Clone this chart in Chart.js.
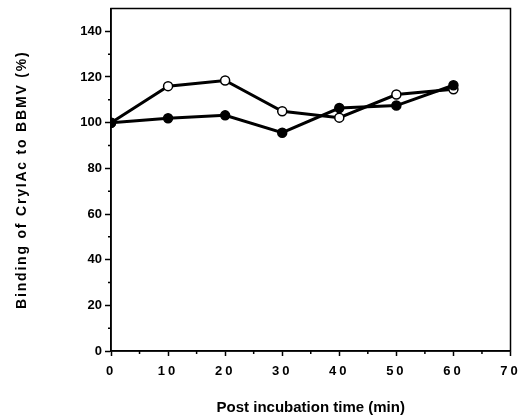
<!DOCTYPE html>
<html>
<head>
<meta charset="utf-8">
<script src="https://cdn.jsdelivr.net/npm/chart.js@4.4.1/dist/chart.umd.min.js"></script>
<style>
  html, body { margin: 0; padding: 0; background: #fff; }
  #wrap { width: 520px; height: 417px; position: relative; }
</style>
</head>
<body>
<div id="wrap"><canvas id="chart01"></canvas></div>
<script>
// data
const timesMin = [0, 10, 20, 30, 40, 50, 60];
const filledSeries = [100, 101.9, 103.2, 95.6, 106.4, 107.5, 116.4];
const openSeries = [100, 116.0, 118.5, 105.0, 102.2, 112.3, 114.6];
const xMinorTicks = [5, 15, 25, 35, 45, 55, 65];
const yMinorTicks = [10, 30, 50, 70, 90, 110, 130];

const FONT = "'Liberation Sans', Arial, Helvetica, sans-serif";

// box around plot + short minor ticks
const framePlugin = {
  id: "frame",
  beforeDraw(chart) {
    const xs = chart.scales.x, ys = chart.scales.y;
    // letter spaced x tick labels and y title
    if (!xs._spaced) {
      const origLabels = xs.drawLabels;
      xs.drawLabels = function (area) {
        const c = this.ctx;
        c.save();
        c.letterSpacing = "3px";
        origLabels.call(this, area);
        c.restore();
      };
      xs._spaced = true;
    }
    if (!ys._spaced) {
      const origTitle = ys.drawTitle;
      ys.drawTitle = function (area) {
        const c = this.ctx;
        c.save();
        c.letterSpacing = "1.8px";
        origTitle.call(this, area);
        c.restore();
      };
      ys._spaced = true;
    }
  },
  afterDraw(chart) {
    const ctx = chart.ctx;
    const a = chart.chartArea;
    const xs = chart.scales.x, ys = chart.scales.y;
    ctx.save();
    ctx.strokeStyle = "#000";
    ctx.lineWidth = 1.5;
    ctx.strokeRect(a.left, a.top, a.right - a.left, a.bottom - a.top);
    ctx.beginPath();
    xMinorTicks.forEach((v) => {
      const px = xs.getPixelForValue(v);
      ctx.moveTo(px, a.bottom);
      ctx.lineTo(px, a.bottom + 3);
    });
    yMinorTicks.forEach((v) => {
      const py = ys.getPixelForValue(v);
      ctx.moveTo(a.left, py);
      ctx.lineTo(a.left - 3, py);
    });
    ctx.stroke();
    ctx.restore();
  },
};

const ctx01 = document.getElementById("chart01").getContext("2d");

const dataLine = {
  labels: timesMin,
  datasets: [
    {
      label: "filled",
      data: timesMin.map((t, i) => ({ x: t, y: filledSeries[i] })),
      borderColor: "#000",
      backgroundColor: "#000",
      borderWidth: 3,
      pointRadius: 4.5,
      pointBorderWidth: 1.5,
      pointBorderColor: "#000",
      pointBackgroundColor: "#000",
      tension: 0,
    },
    {
      label: "open",
      data: timesMin.map((t, i) => ({ x: t, y: openSeries[i] })),
      borderColor: "#000",
      backgroundColor: "#fff",
      borderWidth: 3,
      pointRadius: 4.5,
      pointBorderWidth: 1.5,
      pointBorderColor: "#000",
      pointBackgroundColor: "#fff",
      tension: 0,
    },
  ],
};

const configLine = {
  type: "line",
  data: dataLine,
  plugins: [framePlugin],
  options: {
    responsive: true,
    maintainAspectRatio: false,
    animation: false,
    layout: { autoPadding: false, padding: { top: 8.5, right: 9.5, left: 0, bottom: 0 } },
    plugins: {
      legend: { display: false },
      tooltip: { enabled: false },
    },
    scales: {
      x: {
        type: "linear",
        min: 0,
        max: 70,
        border: { display: true, color: "#000", width: 1.5 },
        grid: { drawOnChartArea: false, drawTicks: true, tickLength: 5, tickColor: "#000", tickWidth: 1.5 },
        ticks: {
          stepSize: 10,
          color: "#000",
          padding: 8,
          maxRotation: 0,
          font: { family: FONT, size: 13, weight: "bold" },
        },
        title: {
          display: true,
          text: "Post incubation time (min)",
          color: "#000",
          padding: { top: 20, bottom: 0 },
          font: { family: FONT, size: 15, weight: "bold" },
        },
        afterFit(scale) {
          scale.height = 66;
          scale.paddingLeft = 0;
          scale.paddingRight = 0;
        },
      },
      y: {
        min: 0,
        max: 150,
        border: { display: true, color: "#000", width: 1.5 },
        grid: { drawOnChartArea: false, drawTicks: true, tickLength: 6, tickColor: "#000", tickWidth: 1.5 },
        afterBuildTicks(scale) {
          scale.ticks = scale.ticks.filter((t) => t.value % 20 === 0);
        },
        ticks: {
          stepSize: 20,
          color: "#000",
          padding: 3,
          font: { family: FONT, size: 13, weight: "bold" },
        },
        title: {
          display: true,
          text: "Binding of CryIAc to BBMV (%)",
          color: "#000",
          padding: { top: 14, bottom: 20 },
          font: { family: FONT, size: 14, weight: "bold" },
        },
        afterFit(scale) {
          scale.width = 111;
          scale.paddingTop = 0;
          scale.paddingBottom = 0;
        },
      },
    },
  },
};

const myChart01 = new Chart(ctx01, configLine);
</script>
</body>
</html>
